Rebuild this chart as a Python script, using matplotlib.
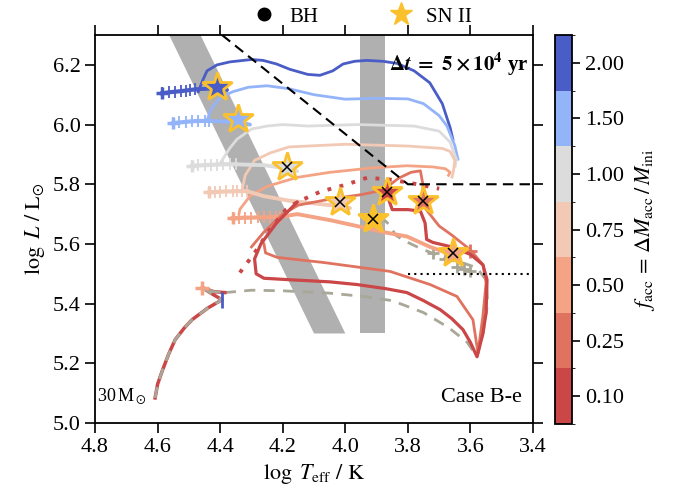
import matplotlib
matplotlib.use("Agg")
import matplotlib.pyplot as plt
import numpy as np
from matplotlib.colors import ListedColormap, BoundaryNorm
from matplotlib.cm import ScalarMappable
from matplotlib.lines import Line2D

plt.rcParams["font.family"] = ["Liberation Serif", "DejaVu Serif"]
plt.rcParams["mathtext.fontset"] = "stix"
plt.rcParams["font.size"] = 16

# accretion fractions and their colours (low -> high)
f_labels = ["0.10", "0.25", "0.50", "0.75", "1.00", "1.50", "2.00"]
f_colors = ["#cb4647", "#e0735f", "#f4a385", "#f2c9b5", "#dcdcdc", "#93b4f8", "#4a5cc5"]
donor_color = "#a9a797"
gold = "#fbc12d"

# shared main sequence up to the onset of mass transfer
ms_T = [4.608, 4.600, 4.585, 4.565, 4.544, 4.515, 4.490, 4.440, 4.394, 4.425, 4.458, 4.420, 4.385]
ms_L = [5.084, 5.130, 5.175, 5.230, 5.279, 5.318, 5.346, 5.385, 5.413, 5.432, 5.454, 5.440, 5.437]

# donor (non-accreting) track
donor_T = [4.385, 4.30, 4.20, 4.05, 3.95, 3.85, 3.75, 3.67, 3.61, 3.579, 3.56, 3.545, 3.55,
           3.58, 3.62, 3.66, 3.70, 3.76, 3.81, 3.84, 3.855, 3.875]
donor_L = [5.437, 5.445, 5.443, 5.435, 5.425, 5.41, 5.37, 5.32, 5.27, 5.222, 5.30, 5.40, 5.48,
           5.52, 5.535, 5.545, 5.56, 5.585, 5.61, 5.63, 5.66, 5.68]
donor_plus_T = [3.72, 3.68, 3.643, 3.62, 3.60]
donor_plus_L = [5.571, 5.55, 5.524, 5.515, 5.51]

# f = 2.00
comb_200_T = [4.585, 4.565, 4.545, 4.525, 4.51, 4.495, 4.48]
comb_200_L = [6.105, 6.108, 6.110, 6.112, 6.114, 6.116, 6.118]
low_200_T = [4.48, 4.44, 4.41, 4.378]
low_200_L = [6.118, 6.12, 6.122, 6.116]
arc_200_T = [4.47, 4.455, 4.442, 4.41, 4.369, 4.30, 4.263, 4.22, 4.177, 4.12, 4.081, 4.04,
             4.007, 3.97, 3.931, 3.88, 3.835, 3.78, 3.73, 3.69, 3.665, 3.656]
arc_200_L = [6.11, 6.15, 6.18, 6.20, 6.21, 6.218, 6.215, 6.203, 6.185, 6.168, 6.165, 6.18,
             6.203, 6.212, 6.215, 6.212, 6.205, 6.18, 6.14, 6.07, 5.99, 5.95]

# f = 1.50
comb_150_T = [4.55, 4.53, 4.51, 4.49, 4.47, 4.45, 4.435]
comb_150_L = [6.005, 6.007, 6.009, 6.011, 6.012, 6.012, 6.012]
low_150_T = [4.435, 4.38, 4.33, 4.305]
low_150_L = [6.012, 6.01, 6.005, 6.0]
arc_150_T = [4.44, 4.43, 4.40, 4.36, 4.31, 4.25, 4.18, 4.10, 4.00, 3.90, 3.80, 3.75,
             3.70, 3.675, 3.65, 3.64]
arc_150_L = [6.02, 6.05, 6.09, 6.11, 6.125, 6.13, 6.12, 6.10, 6.085, 6.088, 6.086, 6.07,
             6.03, 5.995, 5.93, 5.884]

# f = 1.00
comb_100_T = [4.49, 4.47, 4.45, 4.43, 4.41, 4.39, 4.37, 4.35]
comb_100_L = [5.862, 5.863, 5.864, 5.865, 5.866, 5.867, 5.867, 5.867]
low_100_T = [4.35, 4.30, 4.26, 4.20, 4.154]
low_100_L = [5.867, 5.865, 5.864, 5.855, 5.844]
arc_100_T = [4.40, 4.37, 4.346, 4.30, 4.25, 4.20, 4.12, 3.96, 3.78, 3.70, 3.665, 3.645, 3.649]
arc_100_L = [5.87, 5.92, 5.951, 5.985, 5.995, 6.0, 5.995, 6.0, 5.995, 5.978, 5.941, 5.884, 5.86]

# f = 0.75
comb_075_T = [4.435, 4.415, 4.40, 4.38, 4.36, 4.345, 4.33, 4.315]
comb_075_L = [5.773, 5.774, 5.775, 5.776, 5.776, 5.777, 5.777, 5.777]
low_075_T = [4.315, 4.26, 4.18, 4.12, 4.05, 4.007, 3.985]
low_075_L = [5.777, 5.76, 5.745, 5.738, 5.73, 5.726, 5.72]
arc_075_T = [4.33, 4.32, 4.29, 4.24, 4.18, 4.00, 3.80, 3.69, 3.665, 3.65, 3.655, 3.659]
arc_075_L = [5.78, 5.83, 5.88, 5.905, 5.925, 5.934, 5.928, 5.92, 5.91, 5.88, 5.84, 5.824]

# f = 0.50
comb_050_T = [4.36, 4.34, 4.32, 4.30, 4.28, 4.26, 4.24, 4.22, 4.21]
comb_050_L = [5.686, 5.687, 5.688, 5.688, 5.689, 5.689, 5.69, 5.69, 5.69]
low_050_T = [4.21, 4.154, 4.05, 3.963, 3.88, 3.803, 3.729, 3.675, 3.656]
low_050_L = [5.69, 5.70, 5.68, 5.66, 5.64, 5.625, 5.59, 5.57, 5.571]
arc_050_T = [4.34, 4.337, 4.305, 4.25, 4.154, 4.049, 3.912, 3.803, 3.72, 3.68, 3.665, 3.67]
arc_050_L = [5.70, 5.716, 5.76, 5.793, 5.823, 5.84, 5.855, 5.862, 5.858, 5.852, 5.84, 5.83]

# f = 0.25
up_025_T = [4.30, 4.26, 4.20, 4.15, 4.05, 3.95, 3.88, 3.83, 3.79, 3.76, 3.752, 3.752]
up_025_L = [5.59, 5.64, 5.70, 5.73, 5.75, 5.765, 5.78, 5.82, 5.84, 5.845, 5.80, 5.745]
loop_025_T = [4.26, 4.255, 4.218, 4.071, 3.857, 3.729, 3.643, 3.592, 3.576, 3.56, 3.55,
              3.56, 3.60, 3.66, 3.70, 3.73, 3.745]
loop_025_L = [5.60, 5.57, 5.555, 5.538, 5.508, 5.464, 5.424, 5.346, 5.235, 5.36, 5.47,
              5.53, 5.58, 5.63, 5.66, 5.70, 5.72]

# f = 0.10
dot_010_T = [4.337, 4.29, 4.24, 4.19, 4.154, 4.08, 4.00, 3.93, 3.85, 3.77, 3.70]
dot_010_L = [5.504, 5.57, 5.65, 5.715, 5.74, 5.775, 5.798, 5.822, 5.815, 5.80, 5.785]
loop_010_T = [4.154, 4.22, 4.27, 4.29, 4.285, 4.26, 4.177, 4.05, 3.963, 3.87, 3.803, 3.75,
              3.697, 3.66, 3.624, 3.60, 3.579, 3.56, 3.55, 3.547, 3.56, 3.60, 3.66, 3.72,
              3.74, 3.745, 3.76, 3.80, 3.85, 3.86, 3.867]
loop_010_L = [5.74, 5.67, 5.60, 5.55, 5.50, 5.485, 5.48, 5.473, 5.464, 5.45, 5.437, 5.41,
              5.38, 5.35, 5.313, 5.27, 5.222, 5.30, 5.37, 5.48, 5.53, 5.565, 5.59, 5.605,
              5.615, 5.67, 5.71, 5.715, 5.715, 5.745, 5.773]

# SN II end points: fill index into f_colors (-1 = donor), cross = BH flag
sn_T = [4.410, 4.343, 4.186, 4.017, 3.656, 3.752, 3.867, 3.912]
sn_L = [6.126, 6.018, 5.857, 5.740, 5.571, 5.745, 5.773, 5.682]
sn_fill = [6, 5, 4, 3, 2, 1, 0, -1]
sn_cross = [False, False, True, True, True, True, True, True]

# instability strips / boundaries
strip_diag_T = [4.60, 4.50, 4.00, 4.10]
strip_diag_L = [6.38, 6.38, 5.30, 5.30]
strip_vert_T = [3.953, 3.873]
strip_vert_L = [5.30, 6.40]
bound_T = [4.394, 3.80, 3.40]
bound_L = [6.30, 5.80, 5.80]
ysg_T = [3.80, 3.40]
ysg_L = [5.50, 5.50]

fig = plt.figure(figsize=(6.73, 5.04), dpi=100)
ax = fig.add_axes([0.1412, 0.1607, 0.6508, 0.7698])
cax = fig.add_axes([0.8247, 0.1587, 0.0253, 0.7718])

ax.fill(strip_diag_T, strip_diag_L, color="#b0b0b0", lw=0, zorder=1)
ax.fill_betweenx(strip_vert_L, strip_vert_T[0], strip_vert_T[1], color="#b0b0b0", lw=0, zorder=1)

lw = 2.0
# shared main sequence
ax.plot(ms_T, ms_L, color=f_colors[0], lw=lw + 0.5, zorder=3)
ax.plot(ms_T, ms_L, color=donor_color, lw=lw, ls=(0, (4, 3)), zorder=3.1)
ax.plot([ms_T[8]], [ms_L[8]], marker="|", ms=12, mew=2, color=f_colors[6], zorder=3.2)
ax.plot([ms_T[10]], [ms_L[10]], marker="+", ms=10, mew=2.5, color=f_colors[2], zorder=3.2)

# donor
ax.plot(donor_T, donor_L, color=donor_color, lw=lw, ls=(0, (4, 3)), zorder=2.5)
ax.plot(donor_plus_T, donor_plus_L, ls="none", marker="+", ms=9, mew=2, color=donor_color, zorder=2.5)

tracks = [
    (6, comb_200_T, comb_200_L, low_200_T, low_200_L, arc_200_T, arc_200_L),
    (5, comb_150_T, comb_150_L, low_150_T, low_150_L, arc_150_T, arc_150_L),
    (4, comb_100_T, comb_100_L, low_100_T, low_100_L, arc_100_T, arc_100_L),
    (3, comb_075_T, comb_075_L, low_075_T, low_075_L, arc_075_T, arc_075_L),
    (2, comb_050_T, comb_050_L, low_050_T, low_050_L, arc_050_T, arc_050_L),
]
for i, cT, cL, lT, lL, aT, aL in tracks:
    c = f_colors[i]
    ax.plot(aT, aL, color=c, lw=lw, zorder=2.6)
    ax.plot(lT, lL, color=c, lw=lw + 0.8, solid_capstyle="round", zorder=2.7)
    ax.plot(cT, cL, color=c, lw=lw + 1.0, marker="|", ms=9, mew=1.3, zorder=2.7)
    ax.plot(cT[:1], cL[:1], color=c, marker="+", ms=9, mew=2.5, zorder=2.7)

ax.plot(up_025_T, up_025_L, color=f_colors[1], lw=lw, zorder=2.8)
ax.plot(loop_025_T, loop_025_L, color=f_colors[1], lw=lw, zorder=2.8)
ax.plot([3.60], [5.575], marker="+", ms=10, mew=2, color=f_colors[1], zorder=2.8)
ax.plot(dot_010_T, dot_010_L, color=f_colors[0], lw=2.8, ls=(0, (1, 2.2)), zorder=2.9)
ax.plot(loop_010_T, loop_010_L, color=f_colors[0], lw=lw + 0.3, zorder=2.9)

# boundaries
ax.plot(bound_T, bound_L, color="k", lw=1.5, ls=(0, (5, 3)), zorder=4)
ax.plot(ysg_T, ysg_L, color="k", lw=1.5, ls=(0, (1, 2)), zorder=4)

# SN II markers
for t, l, fi, cr in zip(sn_T, sn_L, sn_fill, sn_cross):
    fc = gold if fi < 0 else f_colors[fi]
    ax.plot(t, l, marker="*", ms=22, mfc=fc, mec=gold, mew=2, zorder=5)
    if cr:
        ax.plot(t, l, marker="x", ms=7, color="k", mew=1.1, zorder=6)

ax.set_xlim(4.8, 3.4)
ax.set_ylim(5.0, 6.3)
ax.set_xticks(np.arange(4.8, 3.39, -0.2))
ax.set_yticks(np.arange(5.0, 6.21, 0.2))
ax.xaxis.set_major_formatter(matplotlib.ticker.FormatStrFormatter("%.1f"))
ax.yaxis.set_major_formatter(matplotlib.ticker.FormatStrFormatter("%.1f"))
ax.tick_params(direction="out", length=7, width=1.2, top=True, right=True, labelsize=16)
for s in ax.spines.values():
    s.set_linewidth(1.3)
ax.set_xlabel(r"$\log\ T_{\rm eff}\ /\ {\rm K}$", fontsize=16)
ax.set_ylabel(r"$\log\ L\ /\ {\rm L}_{\odot}$", fontsize=16)

ax.text(0.99, 0.925, r"$\mathbf{\Delta}\boldsymbol{t}\ \mathbf{=\ 5\times10^4}$ yr", transform=ax.transAxes,
        ha="right", va="center", fontsize=15, fontweight="bold")
ax.text(0.975, 0.04, "Case B-e", transform=ax.transAxes, ha="right", va="bottom", fontsize=16)
ax.text(0.005, 0.045, r"30$\,$M$_\odot$", transform=ax.transAxes, ha="left", va="bottom", fontsize=13)

handles = [Line2D([], [], ls="none", marker="o", color="k", ms=9),
           Line2D([], [], ls="none", marker="*", color=gold, ms=17)]
ax.legend(handles, ["BH", "SN II"], loc="lower center", bbox_to_anchor=(0.6, 0.995), ncol=2,
          frameon=False, fontsize=15, handletextpad=0.2, columnspacing=3.0, borderaxespad=0.1)

cmap = ListedColormap(f_colors)
norm = BoundaryNorm(np.arange(len(f_colors) + 1), cmap.N)
cb = fig.colorbar(ScalarMappable(norm=norm, cmap=cmap), cax=cax)
cb.set_ticks(np.arange(len(f_colors)) + 0.5)
cb.set_ticklabels(f_labels)
cb.ax.tick_params(direction="out", length=6, width=1.2, labelsize=16)
cb.outline.set_linewidth(1.3)
cb.set_label(r"$f_{\rm acc}\,=\,\Delta M_{\rm acc}\,/\,M_{\rm ini}$", fontsize=16, labelpad=6)

fig.savefig("out.png", dpi=100)
